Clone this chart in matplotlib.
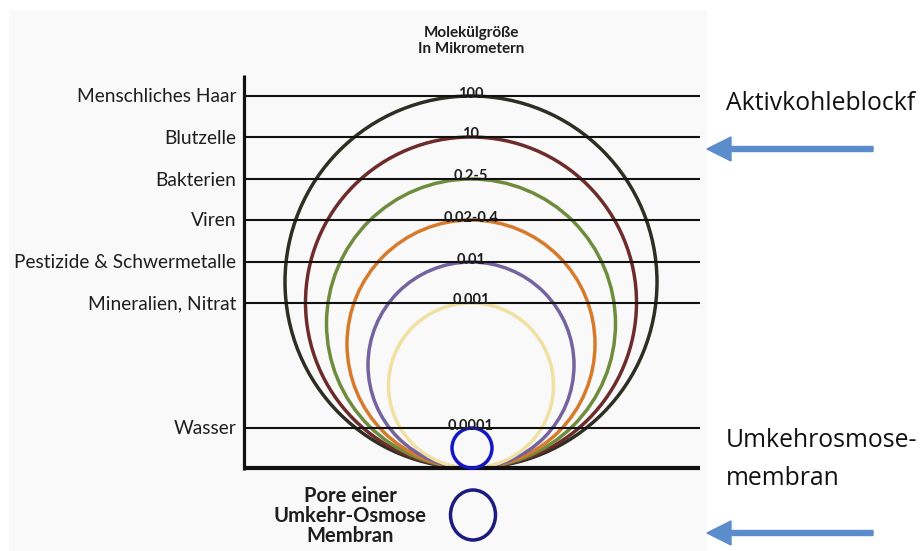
import matplotlib
matplotlib.use("Agg")
import matplotlib.pyplot as plt
from matplotlib.patches import Circle, Ellipse, Rectangle

# ---- data ----
categories = ["Menschliches Haar", "Blutzelle", "Bakterien", "Viren",
              "Pestizide & Schwermetalle", "Mineralien, Nitrat", "Wasser"]
size_labels = ["100", "10", "0.2-5", "0.02-0.4", "0.01", "0.001", "0.0001"]
circle_colors = ["#2e2e22", "#6e2b2b", "#6e8c3c", "#d67a2c", "#74639f",
                 "#f0e1a2", "#1616c4"]
title_text = "Molekülgröße\nIn Mikrometern"
filter_label = "Aktivkohleblockf"
ro_label = ["Umkehrosmose-", "membran"]
pore_label = "Pore einer\nUmkehr-Osmose\nMembran"

# ---- layout (pixel coordinates) ----
W, H = 921, 551
row_y = [96, 137, 179, 220, 262, 303, 428]
axis_x = 244
base_y = 468
line_end = 700
cx = 471

plt.rcParams['font.family'] = ['Lato', 'DejaVu Sans']
fig = plt.figure(figsize=(W / 100, H / 100), dpi=100)
ax = fig.add_axes([0, 0, 1, 1])
ax.set_xlim(0, W)
ax.set_ylim(H, 0)
ax.axis("off")

# light background panel
ax.add_patch(Rectangle((9, 10), 698, 541, facecolor="#f9f9f9", edgecolor="none", zorder=0))

txt = "#1e1e1e"

# circles
for i, (lab, col) in enumerate(zip(size_labels, circle_colors)):
    if i < len(size_labels) - 1:
        r = (base_y - row_y[i]) / 2
        ax.add_patch(Circle((cx, base_y - r), r, fill=False, edgecolor=col,
                            lw=2.5, zorder=2))
    else:
        r = 20
        ax.add_patch(Circle((cx + 1, base_y - r), r, fill=False, edgecolor=col,
                            lw=2.5, zorder=4))

# horizontal lines, labels
for i, (cat, lab) in enumerate(zip(categories, size_labels)):
    y = row_y[i]
    ax.plot([axis_x, line_end], [y, y], color="#111111", lw=1.5, zorder=3,
            solid_capstyle="butt")
    ax.text(236, y + 1, cat, ha="right", va="center", fontsize=13.8, color=txt)
    ax.text(cx, y + 1.5, lab, ha="center", va="baseline", fontsize=10.5,
            fontweight="bold", color=txt, zorder=5)

# axes lines
ax.plot([axis_x, axis_x], [75, base_y + 2], color="#111111", lw=2.3,
        solid_capstyle="butt", zorder=3)
ax.plot([axis_x - 1, line_end], [base_y, base_y], color="#111111", lw=3,
        solid_capstyle="butt", zorder=3)

# title
ax.text(cx, 41, title_text, ha="center", va="center", fontsize=11,
        fontweight="bold", color=txt, linespacing=1.25)

# right side labels and arrows
rfont = dict(family=["Open Sans", "DejaVu Sans"], fontsize=17.8, color="#111111")
ax.text(726, 110, filter_label, ha="left", va="baseline", **rfont)
ax.text(726, 447, ro_label[0], ha="left", va="baseline", **rfont)
ax.text(726, 485, ro_label[1], ha="left", va="baseline", **rfont)
arrow_col = "#5b8ccb"
for ay in (149, 533):
    ax.arrow(873, ay, -166, 0, width=5, head_width=24, head_length=24,
             length_includes_head=True, color=arrow_col, zorder=3)

# bottom legend
ax.text(350, 516, pore_label, ha="center", va="center", fontsize=14.5,
        fontweight="bold", color=txt, linespacing=0.98)
ax.add_patch(Ellipse((473, 515), 45, 50, fill=False, edgecolor="#1c1c80", lw=2.5))

fig.savefig("out.png", dpi=100)
